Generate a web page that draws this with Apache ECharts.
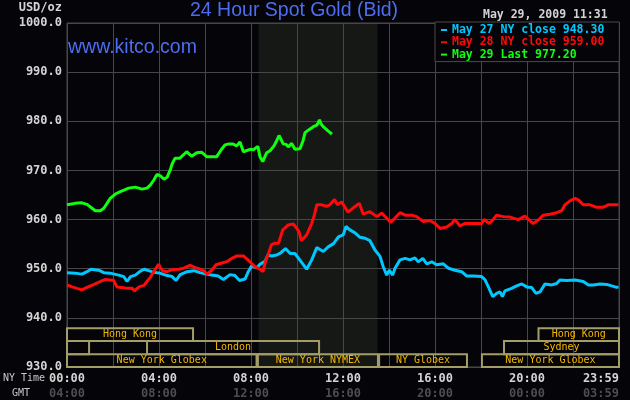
<!DOCTYPE html>
<html><head><meta charset="utf-8">
<script src="https://cdn.jsdelivr.net/npm/echarts@6/dist/echarts.min.js"></script>
<style>html,body{margin:0;padding:0;background:#050408}#c{width:630px;height:400px}</style>
</head><body><div id="c"></div>
<script>
// Time in hours (NY time), price in USD/oz
const may27 = [[0.00,949.2],[0.36,949.1],[0.65,948.9],[0.87,949.4],[1.04,949.9],[1.38,949.7],[1.60,949.2],[1.87,949.1],[2.25,948.7],[2.47,948.4],[2.61,947.4],[2.76,948.4],[2.97,948.7],[3.19,949.5],[3.35,949.9],[3.55,949.6],[3.74,949.3],[4.04,949.1],[4.35,948.6],[4.57,948.4],[4.74,947.6],[4.92,948.8],[5.22,949.4],[5.52,949.6],[5.78,949.2],[6.07,948.9],[6.30,948.7],[6.57,948.5],[6.80,947.8],[7.09,948.8],[7.30,948.6],[7.50,947.6],[7.74,947.9],[7.88,949.4],[8.03,950.6],[8.25,950.2],[8.39,950.9],[8.61,951.5],[8.74,952.8],[8.90,952.6],[9.12,952.8],[9.26,953.1],[9.50,954.1],[9.70,953.1],[9.91,953.1],[10.20,951.3],[10.42,949.9],[10.64,951.8],[10.86,954.3],[11.14,953.5],[11.37,954.5],[11.59,955.1],[11.80,956.5],[12.01,956.9],[12.13,958.6],[12.30,957.9],[12.52,957.3],[12.74,956.4],[12.96,956.2],[13.17,955.7],[13.39,953.8],[13.61,952.5],[13.75,950.4],[13.90,948.7],[14.01,949.7],[14.16,948.7],[14.26,950.1],[14.48,951.8],[14.70,952.1],[14.91,951.8],[15.13,952.2],[15.27,951.4],[15.47,952.1],[15.64,951.0],[15.86,951.4],[16.07,950.8],[16.36,951.0],[16.58,950.1],[16.87,949.7],[17.16,949.4],[17.38,948.5],[17.67,948.5],[18.03,948.4],[18.17,947.8],[18.32,946.3],[18.51,944.3],[18.68,945.0],[18.83,945.3],[18.93,944.3],[19.04,945.5],[19.33,946.0],[19.55,946.5],[19.77,946.9],[19.99,946.3],[20.20,946.2],[20.39,945.0],[20.57,945.3],[20.78,946.9],[21.07,946.7],[21.29,947.0],[21.43,947.7],[21.73,947.6],[22.09,947.7],[22.45,947.4],[22.67,946.7],[22.88,946.7],[23.17,946.9],[23.47,946.8],[23.68,946.5],[23.90,946.2],[23.98,946.3]];
const may28 = [[0.00,946.7],[0.22,946.3],[0.43,946.0],[0.65,945.7],[0.87,946.2],[1.13,946.7],[1.45,947.4],[1.65,947.8],[1.88,947.7],[2.03,947.6],[2.17,946.3],[2.39,946.2],[2.61,946.0],[2.83,946.0],[2.93,945.5],[3.13,946.3],[3.35,946.6],[3.48,947.4],[3.63,948.3],[3.77,949.4],[3.98,950.9],[4.15,949.6],[4.35,949.4],[4.57,949.8],[4.87,949.9],[5.07,950.1],[5.35,950.7],[5.59,950.2],[5.80,949.9],[5.93,949.6],[6.10,948.9],[6.29,949.7],[6.48,950.8],[6.70,951.1],[6.98,951.5],[7.16,952.1],[7.39,952.6],[7.67,952.6],[7.89,951.7],[8.17,950.4],[8.35,950.0],[8.52,949.4],[8.63,951.5],[8.74,952.8],[8.89,954.9],[9.04,955.2],[9.20,955.2],[9.38,957.9],[9.48,958.3],[9.62,958.9],[9.84,959.1],[9.99,958.2],[10.09,957.5],[10.19,955.7],[10.42,956.9],[10.64,959.2],[10.76,961.0],[10.86,963.0],[11.07,963.0],[11.28,962.7],[11.43,963.0],[11.63,964.1],[11.76,963.0],[11.94,963.6],[12.22,961.5],[12.45,962.4],[12.71,963.3],[12.88,961.1],[13.17,961.6],[13.47,960.6],[13.68,961.3],[13.90,960.3],[14.07,959.4],[14.26,960.3],[14.48,961.4],[14.70,960.9],[14.99,960.9],[15.20,960.6],[15.49,959.6],[15.78,959.8],[16.00,959.2],[16.22,958.2],[16.51,958.5],[16.73,959.2],[16.87,960.0],[17.09,958.7],[17.30,959.2],[17.67,959.2],[18.03,959.2],[18.13,960.0],[18.36,959.2],[18.51,959.9],[18.68,960.9],[18.97,960.6],[19.26,960.5],[19.62,960.0],[19.91,960.7],[20.10,959.9],[20.27,959.2],[20.49,959.9],[20.71,960.9],[21.00,961.1],[21.29,961.4],[21.51,961.8],[21.65,963.0],[21.87,963.8],[22.09,964.3],[22.23,964.0],[22.45,963.0],[22.74,963.0],[23.03,962.5],[23.32,962.5],[23.53,963.0],[23.75,963.0],[23.98,963.0]];
const may29 = [[0.00,963.0],[0.35,963.3],[0.65,963.4],[0.87,963.1],[1.09,962.3],[1.23,961.8],[1.45,961.8],[1.60,962.3],[1.74,963.3],[1.88,964.3],[2.10,965.2],[2.32,965.7],[2.48,966.0],[2.68,966.4],[2.97,966.6],[3.26,966.2],[3.48,966.4],[3.62,967.0],[3.77,968.0],[3.91,969.2],[4.06,968.9],[4.22,968.2],[4.35,968.6],[4.49,970.1],[4.57,971.3],[4.70,972.5],[4.91,972.5],[5.07,973.2],[5.20,973.8],[5.42,972.9],[5.64,973.6],[5.86,973.7],[6.07,972.8],[6.29,972.8],[6.51,972.8],[6.72,974.3],[6.87,975.2],[7.04,975.4],[7.20,975.4],[7.38,975.0],[7.52,975.8],[7.67,973.8],[7.74,973.8],[7.96,974.3],[8.10,974.2],[8.17,973.8],[8.30,974.9],[8.39,972.8],[8.51,971.8],[8.68,973.6],[8.83,974.0],[9.00,975.0],[9.11,976.0],[9.22,977.1],[9.40,975.4],[9.52,975.3],[9.62,974.8],[9.77,975.5],[9.91,974.3],[10.13,974.4],[10.26,976.0],[10.35,977.7],[10.52,978.3],[10.71,978.9],[10.86,979.2],[10.98,980.3],[11.04,979.5],[11.14,978.9],[11.36,978.0],[11.47,977.6],[11.52,977.4]];

const seriesNames = ['May 27 NY close 948.30', 'May 28 NY close 959.00', 'May 29 Last 977.20'];
const seriesColors = ['#00c8ff', '#ff0a0a', '#10ff10'];
const nymexFloor = [8.33, 13.5];
const sessions = [
  {name: 'Hong Kong', start: 0, end: 5.48, row: 0},
  {name: 'Hong Kong', start: 20.5, end: 24, row: 0},
  {name: '', start: 0, end: 0.96, row: 1},
  {name: 'London', start: 3.48, end: 10.96, row: 1},
  {name: 'Sydney', start: 19, end: 24, row: 1},
  {name: 'New York Globex', start: 0, end: 8.24, row: 2},
  {name: 'New York NYMEX', start: 8.3, end: 13.52, row: 2},
  {name: 'NY Globex', start: 13.57, end: 17.39, row: 2},
  {name: 'New York Globex', start: 18.04, end: 24, row: 2}
];

const MONO = 'DejaVu Sans Mono';
const SANS = 'Liberation Sans';
const BLUE = '#4d6ef0';
const rowBands = [[935.3, 937.9], [932.6, 935.3], [930, 932.6]];
const pad = n => (n < 10 ? '0' : '') + n;

const chart = echarts.init(document.getElementById('c'), null, {renderer: 'canvas'});
const mkSeries = (i, data, extra) => Object.assign({
  name: seriesNames[i], type: 'line', data: data, showSymbol: false, symbol: 'none',
  lineStyle: {color: seriesColors[i], width: 3}, itemStyle: {color: seriesColors[i]},
  animation: false, silent: true, z: 3
}, extra || {});

chart.setOption({
  backgroundColor: '#050408',
  animation: false,
  title: [
    {text: '24 Hour Spot Gold (Bid)', left: 190, top: 1, padding: 0,
     textStyle: {color: BLUE, fontFamily: SANS, fontSize: 19.5, fontWeight: 'normal'}},
    {text: 'www.kitco.com', left: 68, top: 38, padding: 0,
     textStyle: {color: BLUE, fontFamily: SANS, fontSize: 19.5, fontWeight: 'normal'}},
    {text: 'May 29, 2009 11:31', left: 483, top: 9, padding: 0,
     textStyle: {color: '#d4d4d4', fontFamily: MONO, fontSize: 11.5, fontWeight: 'bold'}},
    {text: 'NY Time', left: 3, top: 373, padding: 0,
     textStyle: {color: '#c8c8c8', fontFamily: MONO, fontSize: 10, fontWeight: 'normal'}},
    {text: 'GMT', left: 12, top: 388, padding: 0,
     textStyle: {color: '#c8c8c8', fontFamily: MONO, fontSize: 10, fontWeight: 'normal'}}
  ],
  legend: {
    orient: 'vertical', left: 435, top: 22, padding: [2, 15, 1, 6], itemGap: 0.3,
    itemWidth: 6, itemHeight: 2, icon: 'rect', selectedMode: false,
    backgroundColor: '#050408', borderColor: '#4a4a4a', borderWidth: 1, borderRadius: 0,
    data: seriesNames.map((n, i) => ({name: n, textStyle: {color: seriesColors[i]}})),
    textStyle: {fontFamily: MONO, fontWeight: 'bold', fontSize: 11.5, lineHeight: 12}
  },
  grid: {left: 67, right: 11, top: 23, bottom: 33, show: true, borderColor: '#4a4a4a', borderWidth: 1, containLabel: false},
  xAxis: {
    type: 'value', min: 0, max: 24, interval: 2,
    axisLine: {show: false}, axisTick: {show: false},
    splitLine: {show: true, lineStyle: {color: '#474747', width: 1}},
    axisLabel: {
      margin: 4, alignMaxLabel: 'right', showMinLabel: true, showMaxLabel: true,
      formatter: v => {
        if (v % 4 !== 0) return '';
        const ny = v === 24 ? '23:59' : pad(v) + ':00';
        const gmt = v === 24 ? '03:59' : pad((v + 4) % 24) + ':00';
        return '{a|' + ny + '}\n{b|' + gmt + '}';
      },
      rich: {
        a: {color: '#d4d4d4', fontFamily: MONO, fontWeight: 'bold', fontSize: 12, lineHeight: 15},
        b: {color: '#4e4e4e', fontFamily: MONO, fontWeight: 'bold', fontSize: 12, lineHeight: 15}
      }
    }
  },
  yAxis: {
    type: 'value', min: 930, max: 1000, interval: 10,
    name: 'USD/oz', nameLocation: 'end', nameGap: 9,
    nameTextStyle: {color: '#d4d4d4', fontFamily: MONO, fontSize: 12, fontWeight: 'bold', align: 'right', padding: [0, 5, 0, 0]},
    axisLine: {show: false}, axisTick: {show: false},
    splitLine: {show: true, lineStyle: {color: '#474747', width: 1}},
    axisLabel: {margin: 5, formatter: v => v.toFixed(1), color: '#d4d4d4', fontFamily: MONO, fontSize: 12, fontWeight: 'bold'}
  },
  series: [
    mkSeries(0, may27, {
      markArea: {silent: true, z: -1, itemStyle: {color: '#151815', borderWidth: 0}, label: {show: false},
        data: [[{xAxis: nymexFloor[0]}, {xAxis: nymexFloor[1]}]]}
    }),
    mkSeries(1, may28, {
      markArea: {silent: true, z: 2,
        itemStyle: {color: 'rgba(0,0,0,0)', borderColor: '#a39d68', borderWidth: 2},
        label: {show: true, position: 'inside', color: '#f5b800', fontFamily: MONO, fontSize: 10},
        data: sessions.map(s => [
          {name: s.name, xAxis: s.start, yAxis: rowBands[s.row][0]},
          {xAxis: s.end, yAxis: rowBands[s.row][1]}
        ])}
    }),
    mkSeries(2, may29)
  ]
});
</script></body></html>
